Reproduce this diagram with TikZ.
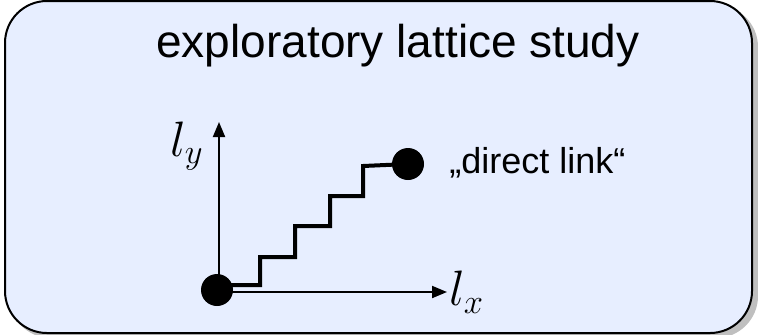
\documentclass[tikz,border=0pt]{standalone}
\usepackage{amsmath}
\usepackage{fontspec}
\setmainfont{Liberation Sans}
\usepackage{tikz}
\usetikzlibrary{arrows.meta, shadows}
\definecolor{boxblue}{HTML}{E7EEFF}

\begin{document}
\begin{tikzpicture}[x=0.5pt, y=-0.5pt, >={Triangle[length=7.5pt, width=6pt]}]
\useasboundingbox (0,0) rectangle (758,334);
\tikzset{site/.style={circle, fill=black, inner sep=0pt, minimum size=16pt}}
\fill[black!25, rounded corners=21pt] (9,5) rectangle (758,338);
\draw[line width=1pt, fill=boxblue, rounded corners=21pt] (5,1) rectangle (752,333);
\node[anchor=base, font=\fontsize{23}{28}\selectfont] (title) at (398,57) {exploratory lattice study};
% axes
\coordinate (o) at (219,292);
\coordinate (xend) at (447,292);
\coordinate (yend) at (219,122);
\draw[->,line width=1pt] (o) -- (xend); \node[right, inner sep=1pt, font=\fontsize{25}{30}\selectfont] (lx) at (xend) {$l_x$};
\draw[->,line width=1pt] (o) -- (yend); \node[left, inner sep=0pt, font=\fontsize{25}{30}\selectfont] (ly) at (204,146) {$l_y$};
% link
\node[site] (a) at (217,290) {};
\node[site] (b) at (408,164) {};
\draw[line width=2pt] (a.center) -- ++(0,-5) -- (260,285) -- (260,257) -- (295,257) -- (295,226) -- (330,226) -- (330,196) -- (363,196) -- (363,166) -- (b.center);
\node[anchor=base west, inner sep=0pt, font=\fontsize{18}{22}\selectfont] (dl) at (449,173) {„direct link“};
\end{tikzpicture}
\end{document}
